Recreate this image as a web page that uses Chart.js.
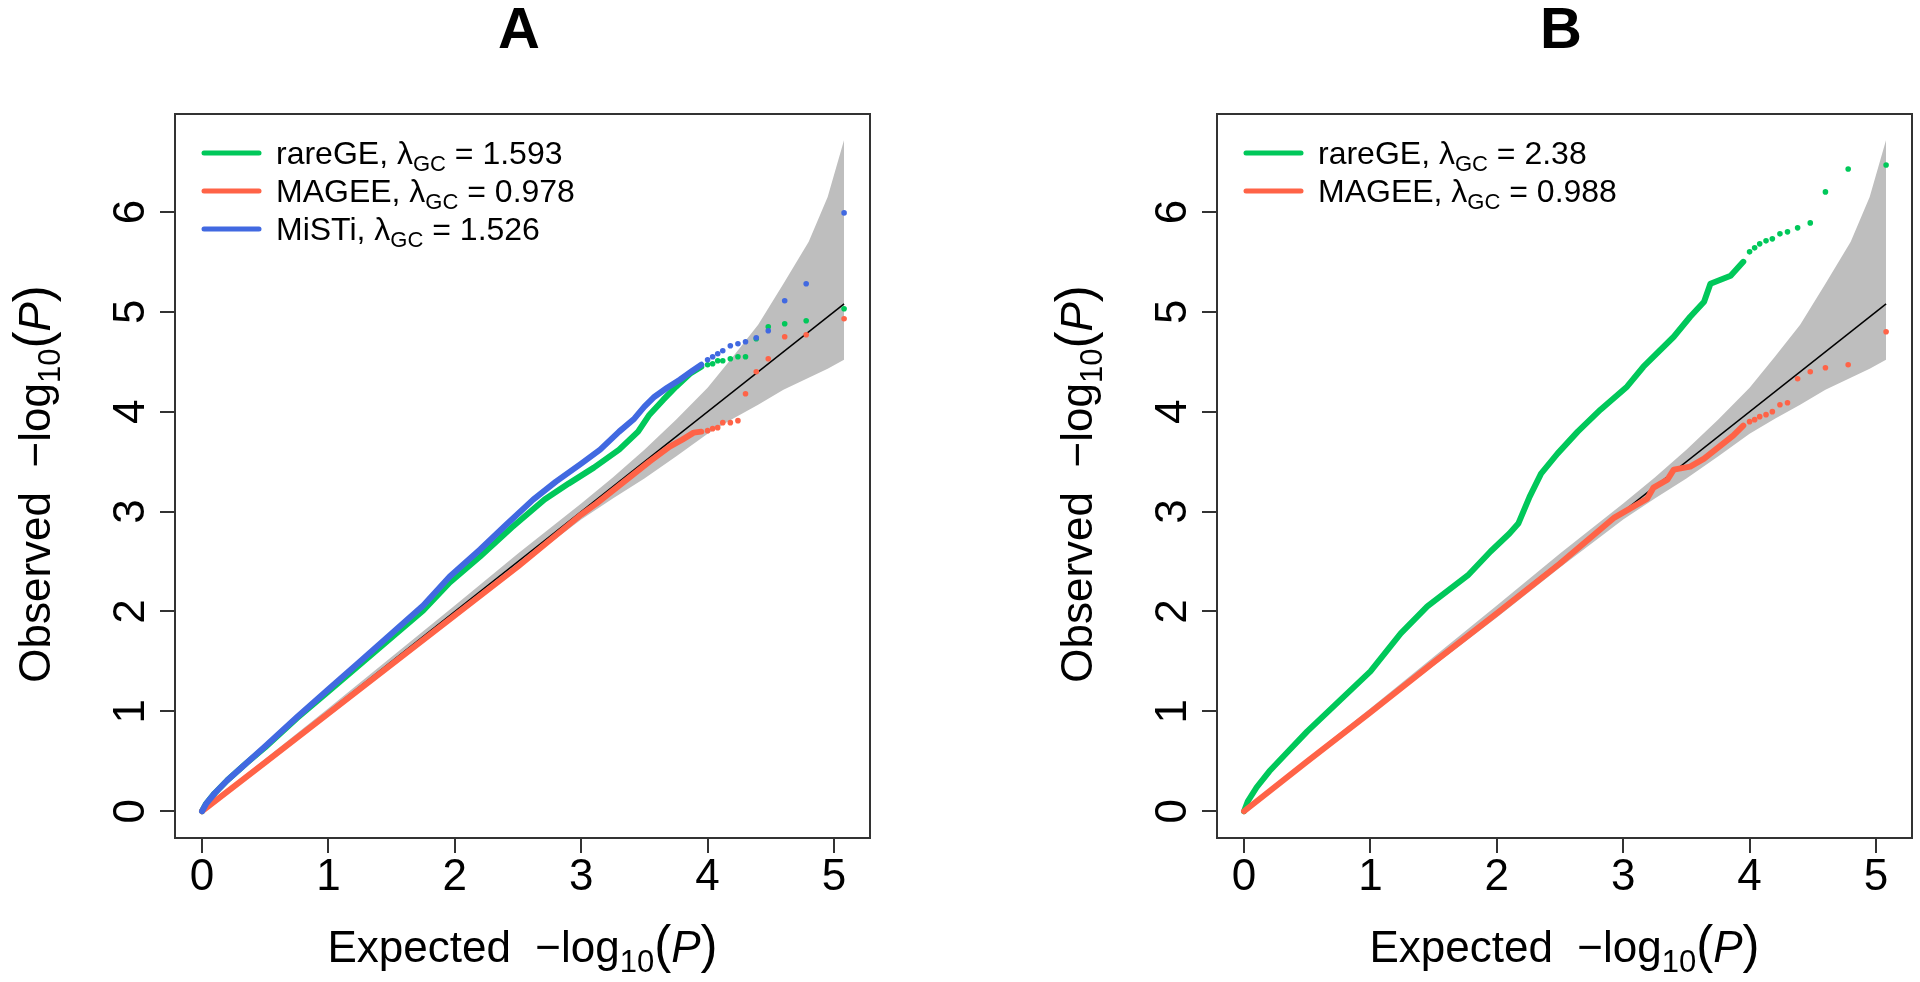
<!DOCTYPE html>
<html>
<head>
<meta charset="utf-8">
<title>QQ plots</title>
<script src="https://cdn.jsdelivr.net/npm/chart.js@4.4.1/dist/chart.umd.min.js"></script>
<style>
  html, body { margin: 0; padding: 0; background: #fff; overflow: hidden; width: 1920px; height: 982px; }
  canvas { position: absolute; top: 0; }
  #qqA { left: 0; }
  #qqB { left: 1042px; }
</style>
</head>
<body>
<canvas id="qqA" width="878" height="982"></canvas>
<canvas id="qqB" width="878" height="982"></canvas>
<script>
// axes
var xTicks = [0, 1, 2, 3, 4, 5];
var yTicks = [0, 1, 2, 3, 4, 5, 6];
var xRange = [-0.214, 5.285];
var yRange = [-0.268, 6.98];

// 95% band around the null and the y = x line
var bandX    = [0, 1, 2, 2.5, 3, 3.25, 3.5, 3.75, 4.0, 4.2, 4.4, 4.6, 4.8, 4.95, 5.08];
var bandHigh = [0.02, 1.03, 2.06, 2.58, 3.08, 3.34, 3.62, 3.92, 4.24, 4.55, 4.87, 5.28, 5.70, 6.15, 6.72];
var bandLow  = [0, 0.97, 1.94, 2.44, 2.92, 3.13, 3.33, 3.55, 3.78, 3.93, 4.07, 4.22, 4.34, 4.43, 4.52];
var refLineX = [0, 5.08];

// panel A, dense part of each curve
var rareA_x  = [0, 0.03, 0.1, 0.2, 0.35, 0.5, 0.75, 1.0, 1.25, 1.5, 1.75, 1.96, 2.2, 2.45, 2.71, 2.9, 3.1, 3.3, 3.45, 3.54, 3.65, 3.75, 3.86, 3.95];
var rareA_y  = [0, 0.07, 0.18, 0.31, 0.48, 0.64, 0.93, 1.2, 1.47, 1.74, 2.01, 2.29, 2.55, 2.84, 3.12, 3.28, 3.44, 3.62, 3.8, 3.97, 4.12, 4.25, 4.38, 4.45];
var mageeA_x = [0, 0.5, 1, 1.5, 2, 2.5, 3, 3.12, 3.3, 3.54, 3.7, 3.8, 3.89, 3.95];
var mageeA_y = [0, 0.49, 0.98, 1.47, 1.96, 2.45, 2.97, 3.08, 3.26, 3.5, 3.65, 3.72, 3.79, 3.8];
var mistiA_x = [0, 0.03, 0.1, 0.2, 0.35, 0.5, 0.75, 1.0, 1.25, 1.5, 1.75, 1.96, 2.2, 2.4, 2.62, 2.8, 3.0, 3.15, 3.3, 3.42, 3.5, 3.58, 3.68, 3.78, 3.88, 3.95];
var mistiA_y = [0, 0.07, 0.18, 0.31, 0.48, 0.65, 0.94, 1.22, 1.5, 1.78, 2.06, 2.35, 2.62, 2.86, 3.12, 3.3, 3.48, 3.62, 3.8, 3.93, 4.05, 4.15, 4.24, 4.32, 4.41, 4.47];

// panel A, top hits drawn as single dots
var tailA_x      = [4.0, 4.04, 4.08, 4.12, 4.18, 4.24, 4.30, 4.385, 4.48, 4.61, 4.78, 5.08];
var rareA_tail   = [4.47, 4.48, 4.51, 4.51, 4.53, 4.55, 4.55, 4.73, 4.85, 4.88, 4.91, 5.03];
var mageeA_tail  = [3.81, 3.83, 3.84, 3.89, 3.89, 3.91, 4.18, 4.40, 4.53, 4.75, 4.77, 4.93];
var mistiA_tail  = [4.52, 4.55, 4.58, 4.61, 4.66, 4.68, 4.70, 4.74, 4.81, 5.11, 5.28, 5.99];

// panel B
var rareB_x  = [0, 0.03, 0.1, 0.2, 0.35, 0.5, 0.75, 1.0, 1.24, 1.45, 1.77, 1.95, 2.1, 2.17, 2.26, 2.35, 2.48, 2.64, 2.82, 3.03, 3.16, 3.4, 3.53, 3.64, 3.69, 3.85, 3.95];
var rareB_y  = [0, 0.1, 0.24, 0.4, 0.6, 0.8, 1.1, 1.4, 1.78, 2.05, 2.36, 2.6, 2.78, 2.88, 3.15, 3.38, 3.58, 3.8, 4.02, 4.25, 4.45, 4.75, 4.95, 5.1, 5.28, 5.36, 5.5];
var mageeB_x = [0, 0.5, 1, 1.5, 2, 2.5, 2.93, 3.19, 3.24, 3.35, 3.4, 3.53, 3.64, 3.74, 3.87, 3.95];
var mageeB_y = [0, 0.5, 0.99, 1.49, 1.98, 2.48, 2.94, 3.13, 3.24, 3.32, 3.42, 3.45, 3.53, 3.63, 3.76, 3.86];
var tailB_x     = [4.0, 4.04, 4.08, 4.13, 4.18, 4.24, 4.30, 4.38, 4.48, 4.60, 4.78, 5.08];
var rareB_tail  = [5.6, 5.64, 5.68, 5.71, 5.73, 5.78, 5.80, 5.84, 5.89, 6.20, 6.43, 6.47];
var mageeB_tail = [3.9, 3.92, 3.95, 3.97, 4.00, 4.07, 4.09, 4.33, 4.40, 4.44, 4.47, 4.80];

var methodsA = ['rareGE', 'MAGEE', 'MiSTi'];
var lambdaA  = ['1.593', '0.978', '1.526'];
var methodsB = ['rareGE', 'MAGEE'];
var lambdaB  = ['2.38', '0.988'];

var GREEN = '#00C85A', RED = '#FF6347', BLUE = '#4169E1', GREY = '#BEBEBE';
var FONT = "'Liberation Sans', Arial, sans-serif";

var pts = function (xs, ys) {
    return xs.map(function (x, i) { return { x: x, y: ys[i] }; });
};

// text with subscripts / italics, parts = [[text, kind], ...]
var fontFor = function (kind, size) {
    if (kind === 'sub') return Math.round(size * 0.7) + 'px ' + FONT;
    if (kind === 'it') return 'italic ' + size + 'px ' + FONT;
    if (kind === 'par') return Math.round(size * 1.15) + 'px ' + FONT;
    return size + 'px ' + FONT;
};

var drawRichLeft = function (ctx, parts, x, y, size) {
    ctx.textAlign = 'left';
    ctx.textBaseline = 'alphabetic';
    var cx = x;
    parts.forEach(function (p) {
        ctx.font = fontFor(p[1], size);
        var dy = p[1] === 'sub' ? size * 0.22 : 0;
        ctx.fillText(p[0], cx, y + dy);
        cx += ctx.measureText(p[0]).width;
    });
};

var drawRich = function (ctx, parts, x, y, size) {
    var total = 0;
    parts.forEach(function (p) { ctx.font = fontFor(p[1], size); total += ctx.measureText(p[0]).width; });
    drawRichLeft(ctx, parts, x - total / 2, y, size);
};

var axisTitle = function (word) {
    return [[word + '  \u2212log', 'n'], ['10', 'sub'], ['(', 'par'], ['P', 'it'], [')', 'par']];
};

var panelDecor = {
    id: 'panelDecor',
    afterDraw: function (chart, args, opts) {
        var ctx = chart.ctx, a = chart.chartArea, ys = chart.scales.y;
        ctx.save();
        ctx.strokeStyle = '#333';
        ctx.lineWidth = 2;
        ctx.strokeRect(a.left, a.top, a.right - a.left, a.bottom - a.top);

        ctx.fillStyle = '#000';
        // y tick labels, parallel to the axis
        ctx.font = '44px ' + FONT;
        ctx.textAlign = 'center';
        ctx.textBaseline = 'alphabetic';
        yTicks.forEach(function (v) {
            ctx.save();
            ctx.translate(a.left - 31, ys.getPixelForValue(v));
            ctx.rotate(-Math.PI / 2);
            ctx.fillText(String(v), 0, 0);
            ctx.restore();
        });

        // axis titles
        drawRich(ctx, axisTitle('Expected'), (a.left + a.right) / 2, 962, 44);
        ctx.save();
        ctx.translate(50, (a.top + a.bottom) / 2 + 8);
        ctx.rotate(-Math.PI / 2);
        drawRich(ctx, axisTitle('Observed'), 0, 0, 44);
        ctx.restore();

        // panel letter
        ctx.font = 'bold 58px ' + FONT;
        ctx.textAlign = 'center';
        ctx.fillText(opts.letter, 519, 48);

        // legend
        ctx.lineCap = 'round';
        ctx.lineWidth = 5;
        opts.names.forEach(function (name, i) {
            var y = 153 + i * 38;
            ctx.strokeStyle = opts.colors[i];
            ctx.beginPath();
            ctx.moveTo(204, y);
            ctx.lineTo(259, y);
            ctx.stroke();
            drawRichLeft(ctx, [[name + ', \u03bb', 'n'], ['GC', 'sub'], [' = ' + opts.lambdas[i], 'n']], 276, y + 11, 32);
        });
        ctx.restore();
    }
};

var curve = function (data, color, order) {
    return { data: data, showLine: true, borderColor: color, borderWidth: 6, pointRadius: 0,
             borderCapStyle: 'round', borderJoinStyle: 'round', tension: 0, fill: false, order: order };
};
var dots = function (data, color, order) {
    return { data: data, showLine: false, pointRadius: 2.8, pointBorderWidth: 0,
             pointBackgroundColor: color, borderColor: color, fill: false, order: order };
};

var drawPanel = function (canvasId, letter, series, names, lambdas) {
    var datasets = [
        { data: pts(bandX, bandLow), borderWidth: 0, pointRadius: 0, fill: false, order: 20 },
        { data: pts(bandX, bandHigh), borderWidth: 0, pointRadius: 0, fill: '-1', backgroundColor: GREY, order: 19 },
        { data: pts(refLineX, refLineX), borderColor: '#000', borderWidth: 1.5, pointRadius: 0, fill: false, order: 15 }
    ];
    // later series are drawn on top
    series.forEach(function (s, i) {
        var order = 10 - i * 2;
        datasets.push(curve(pts(s.x, s.y), s.color, order));
        datasets.push(dots(pts(s.tailX, s.tail), s.color, order - 1));
    });

    var gridOpts = { drawOnChartArea: false, tickLength: 15, color: '#333', lineWidth: 2 };

    return new Chart(document.getElementById(canvasId), {
        type: 'line',
        data: { datasets: datasets },
        options: {
            responsive: false,
            animation: false,
            layout: { padding: { top: 114, right: 8, bottom: 0, left: 0 } },
            plugins: {
                legend: { display: false },
                tooltip: { enabled: false },
                panelDecor: { letter: letter, names: names, lambdas: lambdas,
                              colors: series.map(function (s) { return s.color; }) }
            },
            scales: {
                x: {
                    type: 'linear', min: xRange[0], max: xRange[1],
                    afterBuildTicks: function (s) { s.ticks = xTicks.map(function (v) { return { value: v }; }); },
                    afterFit: function (s) { s.height = 144; },
                    grid: gridOpts,
                    border: { display: false },
                    ticks: { color: '#000', autoSkip: false, maxRotation: 0, padding: 3,
                             font: { family: FONT, size: 44, lineHeight: 1 } }
                },
                y: {
                    type: 'linear', min: yRange[0], max: yRange[1],
                    afterBuildTicks: function (s) { s.ticks = yTicks.map(function (v) { return { value: v }; }); },
                    afterFit: function (s) { s.width = 175; },
                    grid: gridOpts,
                    border: { display: false },
                    ticks: { display: false }
                }
            }
        },
        plugins: [panelDecor]
    });
};

drawPanel('qqA', 'A', [
    { x: rareA_x,  y: rareA_y,  tailX: tailA_x, tail: rareA_tail,  color: GREEN },
    { x: mageeA_x, y: mageeA_y, tailX: tailA_x, tail: mageeA_tail, color: RED },
    { x: mistiA_x, y: mistiA_y, tailX: tailA_x, tail: mistiA_tail, color: BLUE }
], methodsA, lambdaA);

drawPanel('qqB', 'B', [
    { x: rareB_x,  y: rareB_y,  tailX: tailB_x, tail: rareB_tail,  color: GREEN },
    { x: mageeB_x, y: mageeB_y, tailX: tailB_x, tail: mageeB_tail, color: RED }
], methodsB, lambdaB);
</script>
</body>
</html>
